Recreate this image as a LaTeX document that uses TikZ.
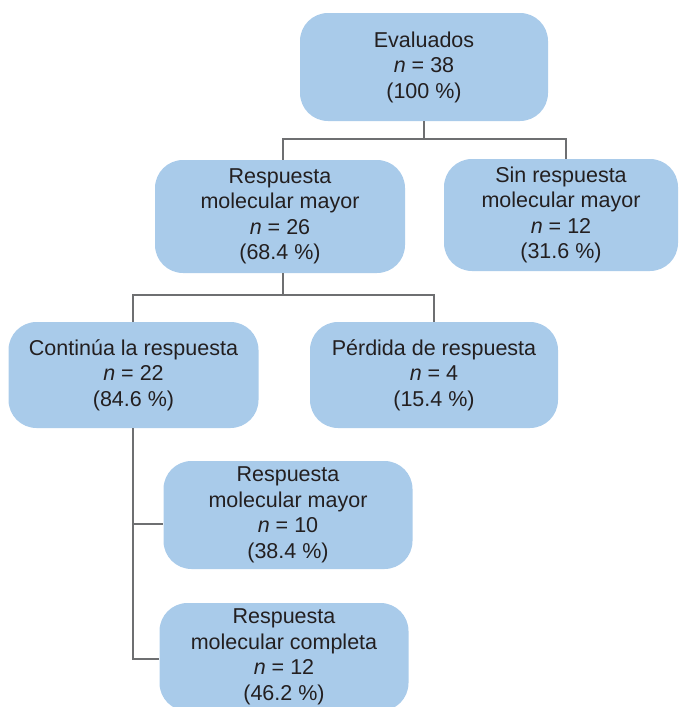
\documentclass[tikz,border=0pt]{standalone}
\usepackage{fontspec}
\setmainfont{Liberation Sans}
\definecolor{boxblue}{RGB}{169,203,234}
\definecolor{linegray}{RGB}{110,111,113}
\definecolor{txt}{RGB}{35,31,32}
\begin{document}
\begin{tikzpicture}[x=1pt,y=-1pt,
  box/.style={fill=boxblue, rounded corners=28pt, align=center, text=txt,
    font=\fontsize{21.5}{25.5}\selectfont, inner sep=0pt,
    minimum width=248pt, minimum height=108pt},
  conn/.style={draw=linegray, line width=2pt}]
\useasboundingbox (0,0) rectangle (678,707);
\clip (0,0) rectangle (678,707);
\node[box] (b1) at (424,67) {Evaluados\\\textit{n} = 38\\(100 \%)};
\node[box, minimum width=250pt, minimum height=113pt] (b2) at (280,216.5) {Respuesta\\molecular mayor\\\textit{n} = 26\\(68.4 \%)};
\node[box, minimum width=234pt, minimum height=112pt] (b3) at (561,215) {Sin respuesta\\molecular mayor\\\textit{n} = 12\\(31.6 \%)};
\node[box, minimum width=250pt, minimum height=106pt] (b4) at (133.5,375) {Continúa la respuesta\\\textit{n} = 22\\(84.6 \%)};
\node[box, minimum height=106pt] (b5) at (434,375) {Pérdida de respuesta\\\textit{n} = 4\\(15.4 \%)};
\node[box, minimum width=249pt] (b6) at (288,515) {Respuesta\\molecular mayor\\\textit{n} = 10\\(38.4 \%)};
\node[box, minimum width=249pt] (b7) at (284,657) {Respuesta\\molecular completa\\\textit{n} = 12\\(46.2 \%)};
\coordinate (j1) at (424,139);
\coordinate (j2) at (283,295);
\coordinate (j3) at (566,139);
\coordinate (k6) at (133,524);
\coordinate (k7) at (133,659);
\draw[conn] (b1.south) -- (j1);
\draw[conn] (b2.north -| j2) |- (j1) -- (j3) -- (b3.north -| j3);
\draw[conn] (b2.south -| j2) -- (j2);
\draw[conn] (b4.north -| k6) |- (j2) -| (b5.north);
\draw[conn] (b4.south -| k6) -- (k7) -- (k7 -| b7.west);
\draw[conn] (k6) -- (k6 -| b6.west);
\end{tikzpicture}
\end{document}
